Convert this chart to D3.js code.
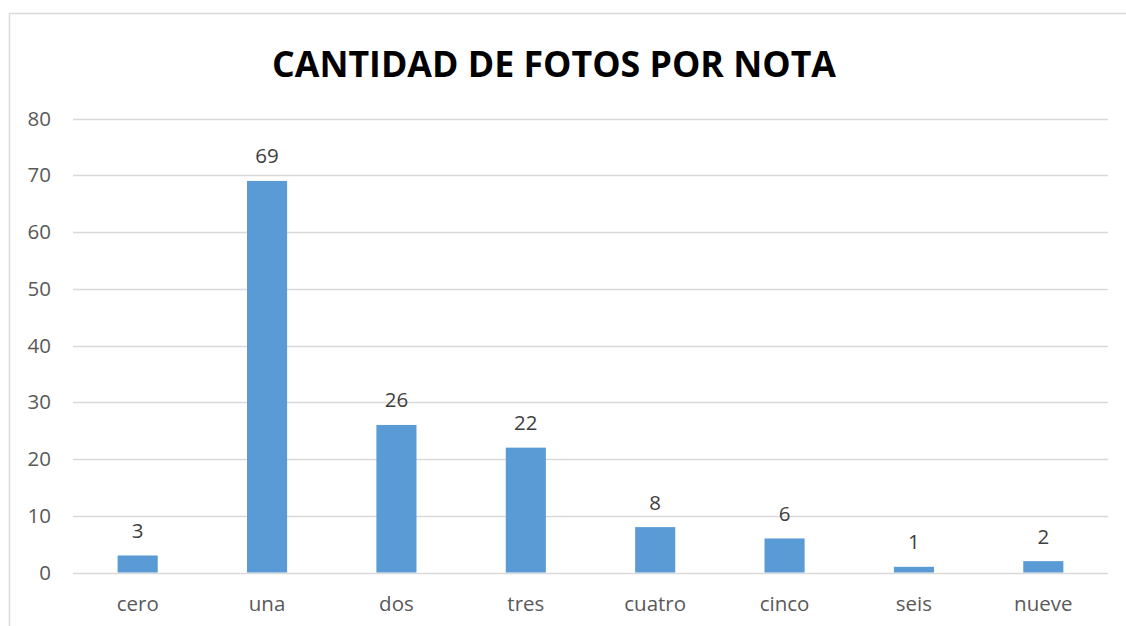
<!DOCTYPE html>
<html>
<head>
<meta charset="utf-8">
<script src="https://cdn.jsdelivr.net/npm/d3@7"></script>
<style>
    body { margin: 0; background: #fff; }
    svg { display: block; font-family: "Open Sans", "Noto Sans", sans-serif; }
</style>
</head>
<body>
<div id="chart"></div>
<script>
// data
const categories = ['cero', 'una', 'dos', 'tres', 'cuatro', 'cinco', 'seis', 'nueve'];
const values = [3, 69, 26, 22, 8, 6, 1, 2];
const yTicks = [0, 10, 20, 30, 40, 50, 60, 70, 80];
const title = 'CANTIDAD DE FOTOS POR NOTA';

const W = 1126;
const H = 626;
const BAR_COLOR = '#5b9bd5';
const GRID_COLOR = '#d9d9d9';
const LABEL_SIZE = 20.5;

const plot = { left: 73, right: 1108, top: 118.5, bottom: 572.5 };

const svg = d3.select('#chart')
    .append('svg')
    .attr('width', W)
    .attr('height', H);

// chart frame (only top and left edges are visible)
svg.append('path')
    .attr('d', `M9.5,${H} V13.5 H${W}`)
    .attr('fill', 'none')
    .attr('stroke', GRID_COLOR)
    .attr('stroke-width', 1.5);

// title
const titleEl = svg.append('text')
    .attr('x', 554)
    .attr('y', 77)
    .attr('text-anchor', 'middle')
    .attr('font-weight', 700)
    .attr('font-size', 35.5)
    .attr('fill', '#000')
    .text(title);
// fit to the reference width
titleEl.attr('textLength', 564).attr('lengthAdjust', 'spacingAndGlyphs');

const x = d3.scaleBand()
    .domain(categories)
    .range([plot.left, plot.right])
    .paddingInner(0.69)
    .paddingOuter(0.345);

const y = d3.scaleLinear()
    .domain([0, 80])
    .range([plot.bottom, plot.top]);

// gridlines
svg.append('g')
    .selectAll('line')
    .data(yTicks)
    .enter()
    .append('line')
    .attr('x1', plot.left)
    .attr('x2', plot.right)
    .attr('y1', d => Math.round(y(d)) + 0.5)
    .attr('y2', d => Math.round(y(d)) + 0.5)
    .attr('stroke', GRID_COLOR)
    .attr('stroke-width', 1.5);

// y axis labels
const yAxis = svg.append('g')
    .attr('transform', `translate(${plot.left - 22},0)`)
    .call(d3.axisLeft(y).tickValues(yTicks).tickSize(0).tickPadding(0));
yAxis.select('.domain').remove();
yAxis.selectAll('text')
    .attr('font-size', LABEL_SIZE)
    .attr('font-family', '"Open Sans", sans-serif')
    .attr('fill', '#595959');

// bars
svg.append('g')
    .selectAll('rect')
    .data(values)
    .enter()
    .append('rect')
    .attr('x', (d, i) => x(categories[i]))
    .attr('y', d => y(d))
    .attr('width', x.bandwidth())
    .attr('height', d => y(0) - y(d))
    .attr('fill', BAR_COLOR);

// value labels
svg.append('g')
    .selectAll('text')
    .data(values)
    .enter()
    .append('text')
    .attr('x', (d, i) => x(categories[i]) + x.bandwidth() / 2)
    .attr('y', d => y(d) - 17.5)
    .attr('text-anchor', 'middle')
    .attr('font-size', LABEL_SIZE)
    .attr('fill', '#404040')
    .text(d => d);

// x axis labels
const xAxis = svg.append('g')
    .attr('transform', `translate(0,${plot.bottom})`)
    .call(d3.axisBottom(x).tickSize(0).tickPadding(0));
xAxis.select('.domain').remove();
xAxis.selectAll('text')
    .attr('dy', null)
    .attr('y', 38.5)
    .attr('font-size', LABEL_SIZE)
    .attr('font-family', '"Open Sans", sans-serif')
    .attr('fill', '#595959');
</script>
</body>
</html>
